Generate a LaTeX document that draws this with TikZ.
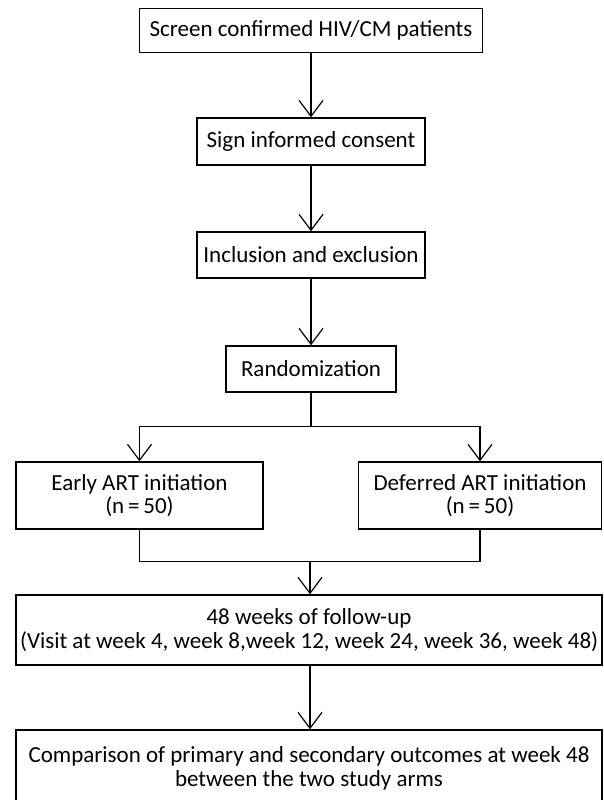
\documentclass[tikz,border=0pt]{standalone}
\usepackage{fontspec}
\setmainfont{Carlito}
\usetikzlibrary{calc, arrows.meta}

\begin{document}
\begin{tikzpicture}[x=1pt, y=-1pt,
    box/.style={draw, line width=1.4pt, align=center, inner sep=0pt,
        font=\fontsize{23}{23.5}\selectfont},
    flow/.style={line width=1.2pt,
        -{Straight Barb[length=16pt, width=24pt, line width=1.2pt]}}]
    \useasboundingbox (0, 0) rectangle (603, 800);

    \node[box, minimum width=343, minimum height=44] (screen) at (311, 30.5) {Screen confirmed HIV/CM patients};
    \node[box, minimum width=228, minimum height=47] (consent) at (311, 141.5) {Sign informed consent};
    \node[box, minimum width=228, minimum height=46] (incl) at (311, 255) {Inclusion and exclusion};
    \node[box, minimum width=170, minimum height=46] (rand) at (311, 369) {Randomization};

    \node[box, minimum width=247, minimum height=67] (early) at (139.5, 495.5) {Early ART initiation\\(n\,=\,50)};
    \node[box, minimum width=243, minimum height=67] (deferred) at (480, 495.5) {Deferred ART initiation\\(n\,=\,50)};

    \node[box, minimum width=586, minimum height=70] (follow) at (309, 630)
        {48 weeks of follow-up\\(Visit at week 4, week 8,week 12, week 24, week 36, week 48)};
    \node[box, minimum width=586, minimum height=77] (outcome) at (309, 768.5)
        {Comparison of primary and secondary outcomes at week 48\\between the two study arms};

    \draw[flow] (screen.south) -- (screen.south |- consent.north);
    \draw[flow] (consent.south) -- (consent.south |- incl.north);
    \draw[flow] (incl.south) -- (incl.south |- rand.north);

    % split to the two arms
    \coordinate (split) at ($(rand.south) + (0, 34)$);
    \draw[line width=1.2pt] (rand.south) -- (split);
    \draw[flow] (split) -| (early.north);
    \draw[flow] (split) -| (deferred.north);

    % join again
    \coordinate (merge) at ($(follow.north) + (1, -33)$);
    \draw[line width=1.2pt] (early.south) |- (merge) -| (deferred.south);
    \draw[flow] (merge) -- (merge |- follow.north);
    \draw[flow] (merge |- follow.south) -- (merge |- outcome.north);

\end{tikzpicture}
\end{document}
